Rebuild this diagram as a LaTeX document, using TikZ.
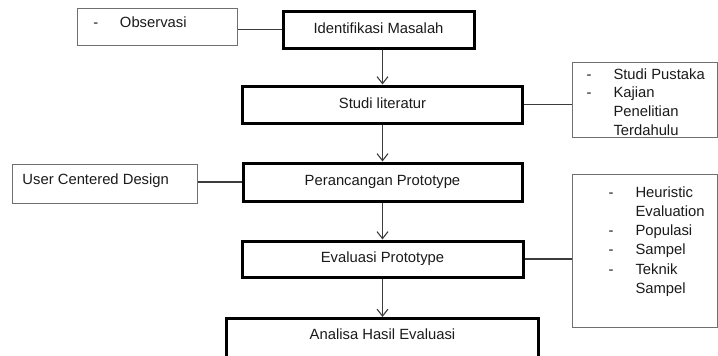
\documentclass[tikz,border=0pt]{standalone}
\usepackage{fontspec}
\setmainfont{Liberation Sans}
\usetikzlibrary{arrows.meta}
\definecolor{sidegray}{HTML}{707070}
\definecolor{linegray}{HTML}{3C3C3C}
\definecolor{txt}{HTML}{1A1A1A}
\begin{document}
\begin{tikzpicture}[x=1pt,y=-1pt,
  mainbox/.style={draw=black, line width=3pt, minimum height=37pt, text height=11pt, text depth=4pt, inner sep=0pt, font=\fontsize{14.8}{18}\selectfont, text=txt},
  sidebox/.style={draw=sidegray, line width=1pt, inner sep=0pt, anchor=north west, text=txt},
  link/.style={draw=linegray, line width=1.1pt},
  flow/.style={link, -{Straight Barb[length=7pt,width=11pt]}}]
\useasboundingbox (0,0) rectangle (718,356);

% main flow boxes
\node[mainbox, minimum width=191pt] (idm) at (378.5,29.5) {Identifikasi Masalah};
\node[mainbox, minimum width=280pt, minimum height=37pt] (stl) at (382.5,104.5) {Studi literatur};
\node[mainbox, minimum width=279pt, minimum height=38pt] (per) at (382.5,182) {Perancangan Prototype};
\node[mainbox, minimum width=281pt, minimum height=36pt] (eva) at (382.5,259) {Evaluasi Prototype};
\node[mainbox, anchor=north, minimum width=312pt, inner ysep=10pt, text depth=40pt] (ana) at (382.5,317) {Analisa Hasil Evaluasi};

% side boxes
\node[sidebox] (obs) at (77,8) {\parbox[c][37pt][t]{160pt}{\fontsize{14.8}{19}\selectfont\vspace*{8pt}\hspace*{16pt}\makebox[26.5pt][l]{-}Observasi}};
\node[sidebox] (ucd) at (12,164) {\parbox[c][39pt][t]{185pt}{\fontsize{14.8}{19}\selectfont\vspace*{9pt}\hspace*{10pt}User Centered Design}};
\node[sidebox] (rb1) at (572,62) {\parbox[c][75pt][t]{145pt}{\fontsize{14.8}{18.6}\selectfont\vspace*{6pt}%
\hspace*{14pt}\makebox[27pt][l]{-}Studi Pustaka\\
\hspace*{14pt}\makebox[27pt][l]{-}Kajian\\
\hspace*{41pt}Penelitian\\
\hspace*{41pt}Terdahulu}};
\node[sidebox] (rb2) at (572,174) {\parbox[c][153pt][t]{145pt}{\fontsize{14.8}{19.2}\selectfont\vspace*{12pt}%
\hspace*{36pt}\makebox[27pt][l]{-}Heuristic\\
\hspace*{63pt}Evaluation\\
\hspace*{36pt}\makebox[27pt][l]{-}Populasi\\
\hspace*{36pt}\makebox[27pt][l]{-}Sampel\\
\hspace*{36pt}\makebox[27pt][l]{-}Teknik\\
\hspace*{63pt}Sampel}};

% side connectors
\draw[link] (idm.west) -- (idm.west -| obs.east);
\draw[link] (stl.east) -- (stl.east -| rb1.west);
\draw[link] (per.west) -- (per.west -| ucd.east);
\draw[link] (eva.east) -- (eva.east -| rb2.west);

% flow arrows
\draw[flow] (idm.south -| stl.north) -- (stl.north);
\draw[flow] (stl.south) -- (per.north);
\draw[flow] (per.south) -- (eva.north);
\draw[flow] (eva.south) -- (ana.north);
\end{tikzpicture}
\end{document}
